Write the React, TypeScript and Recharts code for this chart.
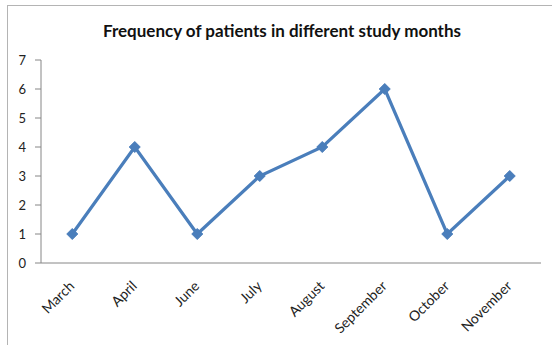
import React from "react";
import { LineChart, Line, XAxis, YAxis } from "recharts";

const months = ["March", "April", "June", "July", "August", "September", "October", "November"];
const patients = [1, 4, 1, 3, 4, 6, 1, 3];
const yTicks = [0, 1, 2, 3, 4, 5, 6, 7];
const bandEdges = [0, 1, 2, 3, 4, 5, 6, 7, 8];

const data = months.map((month, i) => ({ month, patients: patients[i] }));

const FONT = "Lato, 'Open Sans', sans-serif";
const LINE_COLOR = "#4a7ebb";
const AXIS_COLOR = "#868686";

const MonthTick = (props: any) => {
  const { x, y, payload } = props;
  const ax = x + 3;
  const ay = y + 15;
  return (
    <text
      x={ax}
      y={ay}
      textAnchor="end"
      transform={`rotate(-45, ${ax}, ${ay})`}
      fontFamily={FONT}
      fontSize={14}
      fill="#222"
    >
      {payload.value}
    </text>
  );
};

const Diamond = (props: any) => {
  const { cx, cy } = props;
  if (cx == null || cy == null) return null;
  const r = 5.5;
  return (
    <polygon
      points={`${cx},${cy - r} ${cx + r},${cy} ${cx},${cy + r} ${cx - r},${cy}`}
      fill={LINE_COLOR}
      stroke={LINE_COLOR}
      strokeWidth={1}
    />
  );
};

export default function App() {
  return (
    <div
      style={{
        position: "absolute",
        left: 0,
        top: 0,
        width: 552,
        height: 345,
        overflow: "hidden",
        background: "#fff",
      }}
    >
      <div
        style={{
          position: "absolute",
          left: 7,
          top: 5,
          width: 620,
          height: 420,
          border: "1px solid #b4b4b4",
        }}
      />
      <div
        style={{
          position: "absolute",
          left: 0,
          top: 21,
          width: 564,
          textAlign: "center",
          fontFamily: FONT,
          fontWeight: 700,
          fontSize: 17,
          color: "#111",
          lineHeight: "20px",
        }}
      >
        Frequency of patients in different study months
      </div>
      <div style={{ position: "absolute", left: 0, top: 0 }}>
        <LineChart
          width={552}
          height={345}
          data={data}
          margin={{ top: 60, right: 11, left: 0, bottom: 0 }}
        >
          <XAxis
            xAxisId="edges"
            type="number"
            domain={[0, 8]}
            ticks={bandEdges}
            allowDataOverflow
            height={1}
            tick={false}
            tickSize={5}
            axisLine={{ stroke: AXIS_COLOR }}
            tickLine={{ stroke: AXIS_COLOR }}
          />
          <XAxis
            xAxisId="months"
            dataKey="month"
            scale="band"
            height={81}
            axisLine={false}
            tickLine={false}
            interval={0}
            tick={<MonthTick />}
          />
          <YAxis
            domain={[0, 7]}
            ticks={yTicks}
            width={41}
            tickSize={6}
            tickMargin={9}
            axisLine={{ stroke: AXIS_COLOR }}
            tickLine={{ stroke: AXIS_COLOR }}
            tick={{ fontFamily: FONT, fontSize: 13, fill: "#222" }}
          />
          <Line
            xAxisId="months"
            dataKey="patients"
            stroke={LINE_COLOR}
            strokeWidth={3.2}
            dot={<Diamond />}
            activeDot={false}
            isAnimationActive={false}
          />
        </LineChart>
      </div>
    </div>
  );
}
